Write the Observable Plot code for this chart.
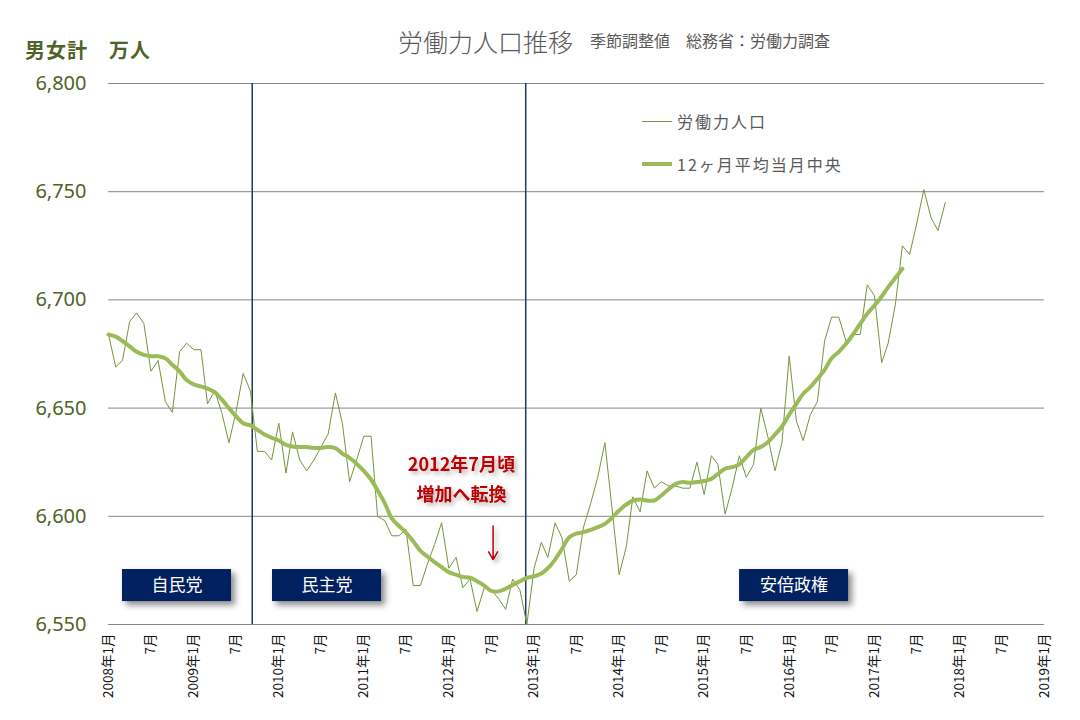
<!DOCTYPE html>
<html><head><meta charset="utf-8">
<script src="https://cdn.jsdelivr.net/npm/d3@7"></script>
<script src="https://cdn.jsdelivr.net/npm/@observablehq/plot@0.6"></script>
<style>
body{margin:0;background:#fff;}
#wrap{position:relative;width:1080px;height:720px;overflow:hidden;font-family:"Noto Sans CJK JP",sans-serif;}
#chart svg{position:absolute;left:0;top:0;}
.abs{position:absolute;white-space:nowrap;line-height:1;}
g[aria-description="shadowed"]{filter:drop-shadow(4px 4px 3px rgba(0,0,0,0.45));}
g[aria-description="redshadow"]{filter:drop-shadow(3px 3px 2px rgba(0,0,0,0.28));}
</style></head><body>
<div id="wrap">
<div id="chart"></div>
<div class="abs" style="left:398px;top:29px;font-size:25px;font-weight:300;color:#595959;">労働力人口推移</div>
<div class="abs" style="left:590px;top:32px;font-size:16px;color:#595959;">季節調整値　総務省：労働力調査</div>
<div class="abs" style="left:25px;top:40px;font-size:20px;font-weight:bold;color:#4f6228;letter-spacing:1px;">男女計　万人</div>
<div class="abs" style="left:642px;top:121px;width:30px;height:1px;background:#77933c;"></div>
<div class="abs" style="left:677px;top:113px;font-size:16px;letter-spacing:2px;color:#595959;">労働力人口</div>
<div class="abs" style="left:642px;top:162px;width:30px;height:4px;background:#9bbb59;"></div>
<div class="abs" style="left:677px;top:156px;font-size:16px;letter-spacing:2px;color:#595959;">12ヶ月平均当月中央</div>
</div>
<script>
// 労働力人口 (季節調整値, 万人) 2008年1月〜2017年11月
const rawValues = [
  6684,6669,6672,6690,6694,6689,6667,6672,6653,6648,6676,6680, // 2008
  6677,6677,6652,6658,6648,6634,6648,6666,6658,6630,6630,6626, // 2009
  6643,6620,6639,6626,6621,6626,6632,6638,6657,6643,6616,6626, // 2010
  6637,6637,6600,6598,6591,6591,6594,6568,6568,6578,6587,6597, // 2011
  6576,6581,6567,6571,6556,6567,6566,6562,6557,6571,6566,6550, // 2012
  6576,6588,6581,6597,6590,6570,6573,6595,6606,6618,6634,6604, // 2013
  6573,6586,6609,6602,6621,6613,6616,6614,6614,6613,6613,6625, // 2014
  6610,6628,6624,6601,6613,6628,6618,6624,6650,6637,6621,6634, // 2015
  6674,6644,6635,6647,6653,6681,6692,6692,6681,6684,6684,6707, // 2016
  6702,6671,6680,6698,6725,6721,6735,6751,6738,6732,6745       // 2017
];
// 12ヶ月平均当月中央 2008年1月〜2017年5月
const maValues = [
  6684,6683,6681,6678.5,6676,6674.6,6674,6674,6673,6670,6667,6663,
  6661,6660,6659,6657.4,6654,6650,6646.3,6643,6642,6640,6637.8,6636.3,
  6635,6633,6632.3,6632,6632,6631.6,6631.6,6632,6631.5,6629,6627,6624.3,
  6621,6617,6612,6606,6599,6595.5,6592.5,6588.5,6584,6581.4,6578.8,6576.5,
  6574.2,6573,6572,6571.6,6570,6568,6565.5,6565.3,6566.5,6568.3,6570,6571.6,
  6572.3,6573.6,6576,6580,6585,6590.3,6592,6592.7,6593.7,6595,6596.5,6599.3,
  6602.7,6605.5,6607.3,6607.8,6607.3,6607.3,6609.6,6612.5,6615,6615.8,6615.5,6615.8,
  6616.3,6617.3,6619.6,6622,6622.7,6624,6627.3,6630.7,6632,6634.2,6637.8,6641.5,
  6647,6652,6656.6,6659.7,6663.5,6667.7,6673,6676,6679.7,6684,6689,6693.6,
  6697.4,6701.6,6705.9,6710.2,6714.4
];
const yTicks = [6550,6600,6650,6700,6750,6800];
const xTickLabels = ["2008年1月","7月","2009年1月","7月","2010年1月","7月","2011年1月","7月",
  "2012年1月","7月","2013年1月","7月","2014年1月","7月","2015年1月","7月","2016年1月","7月",
  "2017年1月","7月","2018年1月","7月","2019年1月"];
const govChanges = ["2009-09-09","2012-11-26"];
const periods = [
  {label:"自民党", start:"2008-03-01", end:"2009-06-12"},
  {label:"民主党", start:"2009-12-05", end:"2011-03-18"},
  {label:"安倍政権", start:"2015-06-02", end:"2016-09-12"}
];
const notes = [
  {date:"2012-02-24", value:6623.5, text:"2012年7月頃"},
  {date:"2012-02-24", value:6609.6, text:"増加へ転換"}
];
const arrowNote = [{date:"2012-07-09", from:6595.5, to:6580}];
const labelBand = [6560.6, 6575.4];

const month = i => new Date(Date.UTC(2008, i, 1));
const raw = rawValues.map((v,i)=>({date:month(i), value:v}));
const ma = maValues.map((v,i)=>({date:month(i), value:v}));
const xTicks = xTickLabels.map((t,i)=>({date:month(i*6), label:t}));
const mid = d => new Date((new Date(d.start).getTime() + new Date(d.end).getTime())/2);

const chart = Plot.plot({
  width:1080, height:720,
  marginTop:83, marginBottom:96, marginLeft:108, marginRight:36,
  style:{fontFamily:'"Noto Sans CJK JP", sans-serif', background:"transparent", overflow:"visible"},
  x:{type:"utc", domain:[month(0), month(132)], axis:null},
  y:{domain:[6550,6800]},
  marks:[
    Plot.ruleY(yTicks, {stroke:"#868686", strokeWidth:1}),
    Plot.axisY(yTicks, {tickFormat:d3.format(","), tickSize:0, tickPadding:22, fontSize:20,
      color:"#4f6228", label:null, fontFamily:'"Noto Sans", sans-serif'}),
    Plot.ruleX(govChanges.map(d=>new Date(d)), {stroke:"#1f3864", strokeWidth:1.5}),
    Plot.line(raw, {x:"date", y:"value", stroke:"#77933c", strokeWidth:1}),
    Plot.line(ma, {x:"date", y:"value", stroke:"#9bbb59", strokeWidth:4, curve:"catmull-rom", strokeLinejoin:"round"}),
    Plot.rect(periods, {x1:d=>new Date(d.start), x2:d=>new Date(d.end), y1:labelBand[0], y2:labelBand[1],
      fill:"#002060", ariaDescription:"shadowed"}),
    Plot.text(periods, {x:mid, y:(labelBand[0]+labelBand[1])/2, text:"label", fill:"white", fontSize:17}),
    Plot.text(xTicks, {x:"date", text:"label", frameAnchor:"bottom", rotate:-90, textAnchor:"end",
      lineAnchor:"middle", dy:9, fontSize:13.5, fill:"#111"}),
    Plot.text(notes, {x:d=>new Date(d.date), y:"value", text:"text", fill:"#c00000", fontSize:18,
      fontWeight:"bold", ariaDescription:"redshadow"}),
    Plot.arrow(arrowNote, {x1:d=>new Date(d.date), x2:d=>new Date(d.date), y1:"from", y2:"to",
      stroke:"#c00000", strokeWidth:1.5, headLength:9, ariaDescription:"redshadow"})
  ]
});
document.getElementById("chart").appendChild(chart);
</script>
</body></html>
